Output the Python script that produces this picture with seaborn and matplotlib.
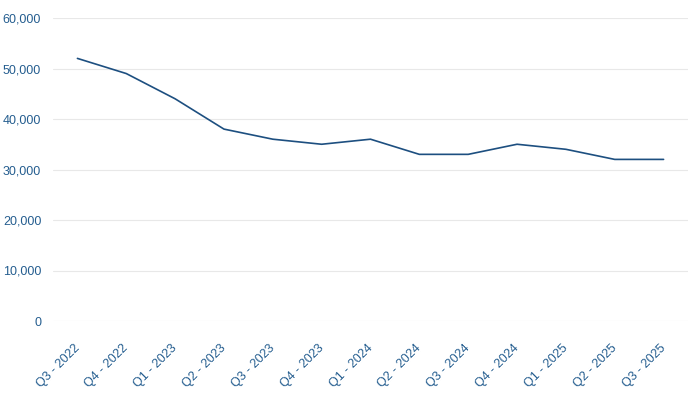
import matplotlib
matplotlib.use("Agg")
import matplotlib.pyplot as plt
import matplotlib.transforms as mtransforms
import seaborn as sns
import pandas as pd

quarters = ["Q3 - 2022", "Q4 - 2022", "Q1 - 2023", "Q2 - 2023", "Q3 - 2023", "Q4 - 2023",
            "Q1 - 2024", "Q2 - 2024", "Q3 - 2024", "Q4 - 2024", "Q1 - 2025", "Q2 - 2025", "Q3 - 2025"]
values = [52000, 49000, 44000, 38000, 36000, 35000, 36000, 33000, 33000, 35000, 34000, 32000, 32000]
yticks = [0, 10000, 20000, 30000, 40000, 50000, 60000]

sns.set_theme(style="white")
plt.rcParams["font.family"] = ["Liberation Sans", "DejaVu Sans"]

text_color = "#245d8f"
line_color = "#1d4f80"

df = pd.DataFrame({"quarter": quarters, "value": values})
df["pos"] = range(len(df))

fig = plt.figure(figsize=(6.99, 3.93), dpi=100)
ax = fig.add_axes([53/699, 1 - 321/393, 635/699, 303/393])
sns.lineplot(data=df, x="pos", y="value", ax=ax, color=line_color, linewidth=1.2)

ax.set_xlim(-0.5, len(df) - 0.5)
ax.set_ylim(0, 60000)
ax.set_yticks(yticks)
ax.set_yticklabels([f"{v:,}" for v in yticks])
ax.set_xticks(df["pos"])
ax.set_xticklabels(quarters, rotation=45, ha="right", rotation_mode="anchor")
ax.tick_params(axis="both", length=0, labelsize=9, labelcolor=text_color)
ax.tick_params(axis="y", pad=8.5)
ax.tick_params(axis="x", pad=15)
offset = mtransforms.ScaledTranslation(-4/100, 0, fig.dpi_scale_trans)
for lbl in ax.get_xticklabels():
    lbl.set_transform(lbl.get_transform() + offset)
ax.grid(axis="y", color="#e8e8e8", linewidth=0.8)
ax.set_axisbelow(True)
for s in ax.spines.values():
    s.set_visible(False)
ax.set_xlabel("")
ax.set_ylabel("")

fig.savefig("out.png", dpi=100)
